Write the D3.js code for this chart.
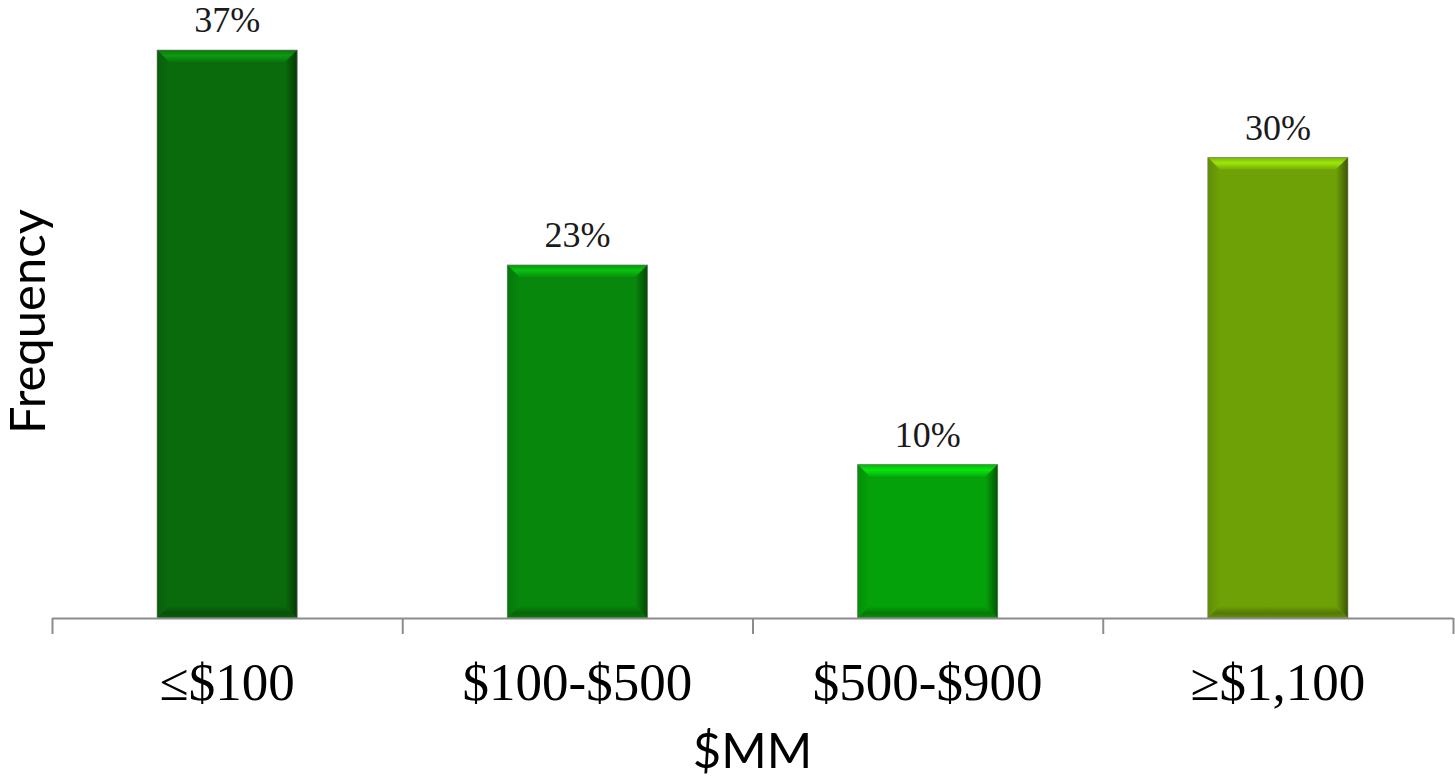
<!DOCTYPE html>
<html>
<head>
<meta charset="utf-8">
<script src="https://cdn.jsdelivr.net/npm/d3@7"></script>
<style>
  html, body { margin: 0; padding: 0; background: #fff; }
  svg { display: block; }
</style>
</head>
<body>
<svg id="chart" width="1455" height="779"></svg>
<script>
// Deal size buckets and their share of deals (%)
const categories = ["\u2264$100", "$100-$500", "$500-$900", "\u2265$1,100"];
const frequency = [37, 23, 10, 30];
const barColors = ["#0a6b0c", "#07870b", "#05a10a", "#6ea106"];
const valueLabels = ["37%", "23%", "10%", "30%"];

const width = 1455, height = 779;
const margin = { left: 52, right: 2, top: 4, bottom: 161 };
const baseY = height - margin.bottom; // 618

const svg = d3.select("#chart");
const defs = svg.append("defs");

const x = d3.scaleBand()
  .domain(categories)
  .range([margin.left, width - margin.right])
  .padding(0);

const y = d3.scaleLinear()
  .domain([0, 40])
  .range([baseY, margin.top]);

const barFrac = 0.4;
const bev = 12;

// gradients for the bevelled edges of each bar
barColors.forEach((c, i) => {
  const base = d3.color(c);
  const light = base.brighter(1.0);
  const dark = base.darker(1.8);
  const gTop = defs.append("linearGradient").attr("id", "gTop" + i)
    .attr("x1", 0).attr("y1", 0).attr("x2", 0).attr("y2", 1);
  gTop.append("stop").attr("offset", 0).attr("stop-color", base.brighter(0.3));
  gTop.append("stop").attr("offset", 0.45).attr("stop-color", light);
  gTop.append("stop").attr("offset", 1).attr("stop-color", base.brighter(0.2));

  const gRight = defs.append("linearGradient").attr("id", "gRight" + i)
    .attr("x1", 0).attr("y1", 0).attr("x2", 1).attr("y2", 0);
  gRight.append("stop").attr("offset", 0).attr("stop-color", base);
  gRight.append("stop").attr("offset", 1).attr("stop-color", dark);

  const gBottom = defs.append("linearGradient").attr("id", "gBottom" + i)
    .attr("x1", 0).attr("y1", 0).attr("x2", 0).attr("y2", 1);
  gBottom.append("stop").attr("offset", 0).attr("stop-color", base);
  gBottom.append("stop").attr("offset", 0.6).attr("stop-color", base.darker(0.8));
  gBottom.append("stop").attr("offset", 1).attr("stop-color", base.darker(0.3));

  const gLeft = defs.append("linearGradient").attr("id", "gLeft" + i)
    .attr("x1", 0).attr("y1", 0).attr("x2", 1).attr("y2", 0);
  gLeft.append("stop").attr("offset", 0).attr("stop-color", base.darker(0.35));
  gLeft.append("stop").attr("offset", 1).attr("stop-color", base);
});

const bars = svg.append("g").selectAll("g")
  .data(categories.map((c, i) => ({ cat: c, v: frequency[i], i })))
  .join("g");

bars.each(function(d) {
  const g = d3.select(this);
  const bw = x.bandwidth() * barFrac;
  const x0 = x(d.cat) + (x.bandwidth() - bw) / 2;
  const x1 = x0 + bw;
  const y0 = y(d.v);
  const y1 = baseY;
  g.append("rect")
    .attr("x", x0).attr("y", y0).attr("width", bw).attr("height", y1 - y0)
    .attr("fill", barColors[d.i]);
  const poly = pts => pts.map(p => p.join(",")).join(" ");
  g.append("polygon")
    .attr("points", poly([[x0, y0], [x1, y0], [x1 - bev, y0 + bev], [x0 + bev, y0 + bev]]))
    .attr("fill", `url(#gTop${d.i})`);
  g.append("polygon")
    .attr("points", poly([[x0, y0], [x0 + bev, y0 + bev], [x0 + bev, y1 - bev], [x0, y1]]))
    .attr("fill", `url(#gLeft${d.i})`);
  g.append("polygon")
    .attr("points", poly([[x1, y0], [x1, y1], [x1 - bev, y1 - bev], [x1 - bev, y0 + bev]]))
    .attr("fill", `url(#gRight${d.i})`);
  g.append("polygon")
    .attr("points", poly([[x0, y1], [x1, y1], [x1 - bev, y1 - bev], [x0 + bev, y1 - bev]]))
    .attr("fill", `url(#gBottom${d.i})`);
  g.append("rect")
    .attr("x", x0).attr("y", y0).attr("width", bw).attr("height", y1 - y0)
    .attr("fill", "none").attr("stroke", "#7a7a7a").attr("stroke-opacity", 0.6).attr("stroke-width", 1);

  g.append("text")
    .attr("x", x0 + bw / 2)
    .attr("y", y0 - 18)
    .attr("text-anchor", "middle")
    .attr("font-family", "'Liberation Serif', 'Times New Roman', serif")
    .attr("font-size", 36)
    .attr("fill", "#1a1a1a")
    .text(valueLabels[d.i]);
});

// category axis with ticks at band boundaries
const axis = svg.append("g");
axis.append("line")
  .attr("x1", x.range()[0]).attr("x2", x.range()[1])
  .attr("y1", baseY + 0.5).attr("y2", baseY + 0.5)
  .attr("stroke", "#8c8c8c").attr("stroke-width", 2);
const tickXs = categories.map(c => x(c)).concat([x(categories[categories.length - 1]) + x.bandwidth()]);
axis.selectAll("line.tick")
  .data(tickXs)
  .join("line")
  .attr("class", "tick")
  .attr("x1", d => Math.min(d, width - 2) + 0.5).attr("x2", d => Math.min(d, width - 2) + 0.5)
  .attr("y1", baseY).attr("y2", baseY + 16)
  .attr("stroke", "#8c8c8c").attr("stroke-width", 2);

axis.selectAll("text.cat")
  .data(categories)
  .join("text")
  .attr("class", "cat")
  .attr("x", d => x(d) + x.bandwidth() / 2)
  .attr("y", 700)
  .attr("text-anchor", "middle")
  .attr("font-family", "'Liberation Serif', 'Times New Roman', serif")
  .attr("font-size", 53)
  .attr("fill", "#000")
  .text(d => d);

// axis titles
svg.append("text")
  .attr("x", (x.range()[0] + x.range()[1]) / 2)
  .attr("y", 768)
  .attr("text-anchor", "middle")
  .attr("font-family", "Lato, 'Open Sans', sans-serif")
  .attr("font-size", 49)
  .attr("fill", "#000")
  .text("$MM");

svg.append("text")
  .attr("transform", `translate(45, ${321.5}) rotate(-90)`)
  .attr("text-anchor", "middle")
  .attr("font-family", "Lato, 'Open Sans', sans-serif")
  .attr("font-size", 49)
  .attr("fill", "#000")
  .text("Frequency");
</script>
</body>
</html>
